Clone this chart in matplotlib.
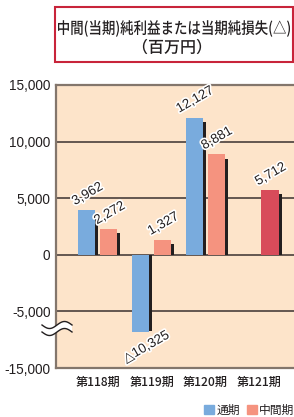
import matplotlib
matplotlib.use("Agg")
import matplotlib.pyplot as plt
import matplotlib.patheffects as pe
import numpy as np
from matplotlib.patches import Rectangle, Patch, PathPatch
from matplotlib.textpath import TextPath
from matplotlib.font_manager import FontProperties
from matplotlib.transforms import Affine2D, IdentityTransform

# data
periods = ["第118期", "第119期", "第120期", "第121期"]
full_year = [3962, -10325, 12127, np.nan]      # 通期
interim = [2272, 1327, 8881, 5712]             # 中間期 (第121期 is the current one)
labels_full = ["3,962", "△10,325", "12,127", ""]
labels_interim = ["2,272", "1,327", "8,881", "5,712"]
y_ticks = [-15000, -5000, 0, 5000, 10000, 15000]
y_ticklabels = ["-15,000", "-5,000", "0", "5,000", "10,000", "15,000"]

BLUE = "#79ABDD"
PINK = "#F5937F"
RED = "#D84B5A"
SHADOW = "#231F20"
BG = "#FDE4CA"
SPINE = "#83766C"
TXT = "#231F20"

NUM_FONT = ["Liberation Sans Narrow", "Liberation Sans", "DejaVu Sans"]
JP_FONT = ["Noto Sans CJK JP", "DejaVu Sans"]

# broken y axis: the part below -5,000 is squeezed
brk_data = [-15000, -10325, -5000, 15000]
brk_disp = [-10000, -6850, -5000, 15000]


def fwd(v):
    return np.interp(v, brk_data, brk_disp)


def inv(v):
    return np.interp(v, brk_disp, brk_data)


W, H = 294, 417
fig = plt.figure(figsize=(W / 100, H / 100), dpi=100)

ax = fig.add_axes([56 / W, (H - 368) / H, 254 / W, 283 / H])
ax.set_facecolor(BG)
ax.set_yscale("function", functions=(fwd, inv))
ax.set_ylim(-15000, 15000)
ax.set_xlim(-0.78, 3.95)

x = np.arange(len(periods))
bw = 0.317
off = 0.205
sh = 0.056  # shadow shift


def shrink(vals, d=380):
    vals = np.asarray(vals, dtype=float)
    return vals - np.sign(vals) * d


interim_colors = [PINK, PINK, PINK, RED]

ax.bar(x - off + sh, shrink(full_year), bw, color=SHADOW, zorder=2)
ax.bar(x + off + sh, shrink(interim), bw, color=SHADOW, zorder=2)
ax.bar(x - off, full_year, bw, color=BLUE, zorder=3)
ax.bar(x + off, interim, bw, color=interim_colors, zorder=3)

for yv in [10000, 5000, 0, -5000]:
    ax.axhline(yv, color="#3a3030", lw=1.1, zorder=1)

for s in ["top", "left", "bottom"]:
    ax.spines[s].set_color(SPINE)
    ax.spines[s].set_linewidth(1.6)
ax.spines["right"].set_visible(False)

ax.set_yticks(y_ticks)
ax.set_yticklabels(y_ticklabels, family=NUM_FONT, fontsize=9.8, color=TXT)
ax.set_xticks(x)
ax.set_xticklabels(periods, family=JP_FONT, fontsize=8.7, color=TXT, weight="medium")
ax.tick_params(length=0, pad=4)
ax.tick_params(axis="x", pad=6)

stroke = [pe.withStroke(linewidth=2.4, foreground="white")]


def put_label(xx, v, txt):
    if not txt or np.isnan(v):
        return
    if v >= 0:
        ax.annotate(txt, (xx, v), xytext=(1, 2), textcoords="offset pixels",
                    ha="center", va="bottom", rotation=30, fontsize=9.6,
                    family=NUM_FONT, color=TXT, path_effects=stroke, zorder=5)
    else:
        ax.annotate(txt, (xx, v), xytext=(6, 3), textcoords="offset pixels",
                    ha="center", va="top", rotation=30, fontsize=9.6,
                    family=NUM_FONT + JP_FONT, color=TXT, path_effects=stroke, zorder=5)


for i in range(len(periods)):
    put_label(x[i] - off, full_year[i], labels_full[i])
    put_label(x[i] + off, interim[i], labels_interim[i])

# wavy break mark over the left spine
t = np.linspace(0, 1, 60)
bx = (42 + 30 * t) / W
w1 = (H - (325 + 3.5 * np.sin(2 * np.pi * t))) / H
w2 = (H - (332 + 3.5 * np.sin(2 * np.pi * t))) / H
fig.patches.append(plt.Polygon(np.column_stack([np.r_[bx, bx[::-1]], np.r_[w1, w2[::-1]]]),
                               closed=True, transform=fig.transFigure,
                               facecolor="white", edgecolor="none", zorder=10))
fig.lines.append(plt.Line2D(bx, w1, transform=fig.transFigure, color=TXT, lw=1.0, zorder=11))
fig.lines.append(plt.Line2D(bx, w2, transform=fig.transFigure, color=TXT, lw=1.0, zorder=11))

# title box
fig.patches.append(Rectangle((55 / W, (H - 62) / H), 238 / W, 55 / H,
                             transform=fig.transFigure, fill=False,
                             edgecolor="#C8243A", lw=1.5))

title_fp = FontProperties(family="Noto Sans CJK JP", weight="medium")


def squeezed_text(s, xc, yc, sx, size=16):
    # condensed title text, centred on a pixel position
    tp = TextPath((0, 0), s, size=size, prop=title_fp)
    ext = tp.get_extents()
    tr = (Affine2D().translate(-(ext.x0 + ext.x1) / 2, -(ext.y0 + ext.y1) / 2)
          .scale(sx, 1).translate(xc, H - yc))
    fig.add_artist(PathPatch(tr.transform_path(tp), transform=IdentityTransform(),
                             facecolor=TXT, edgecolor="none", lw=0))


line1 = "中間(当期)純利益または当期純損失(△)"
sx1 = 232 / TextPath((0, 0), line1, size=16, prop=title_fp).get_extents().width
squeezed_text(line1, 174, 28.5, sx1)
squeezed_text("（百万円）", 172, 46.5, 1.0)

handles = [Patch(color=BLUE, label="通期"), Patch(color=PINK, label="中間期")]
fig.legend(handles=handles, loc="center left", bbox_to_anchor=(199 / W, (H - 410) / H),
           ncol=2, frameon=False, handlelength=0.85, handleheight=0.85,
           handletextpad=0.2, columnspacing=0.6, borderaxespad=0,
           prop={"family": JP_FONT, "size": 8.5}, labelcolor=TXT)

fig.savefig("out.png", dpi=100, facecolor="white")
